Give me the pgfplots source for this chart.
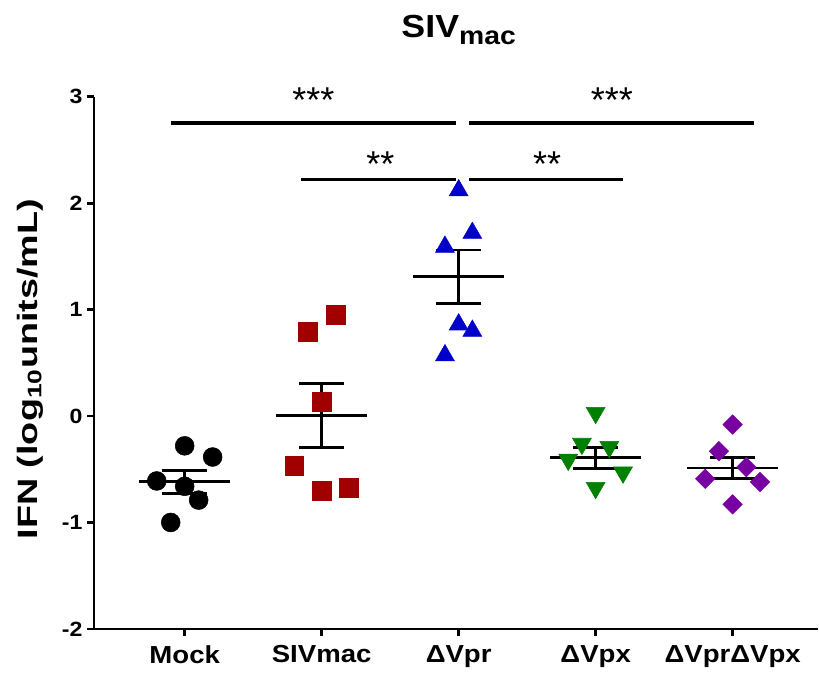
\documentclass[border=0pt]{standalone}
\usepackage{fontspec}
\setmainfont{Liberation Sans}[FakeStretch=1.12]
\newfontfamily\ylabfont{Liberation Sans}[FakeStretch=1.35]
\newfontfamily\starfont{Liberation Sans}
\usepackage{pgfplots}
\pgfplotsset{compat=1.18}
\definecolor{cred}{RGB}{160,0,0}
\definecolor{cblue}{RGB}{0,0,200}
\definecolor{cgreen}{RGB}{0,128,0}
\definecolor{cpurple}{RGB}{120,0,160}
\begin{document}
\begin{tikzpicture}
\begin{axis}[
  scale only axis, width=543.75pt, height=399.75pt,
  xmin=-0.663, xmax=4.62, ymin=-2, ymax=3,
  axis x line*=bottom, axis y line*=left,
  axis line style={line width=2pt},
  xtick={0,1,2,3,4},
  xticklabels={Mock,SIVmac,ΔVpr,ΔVpx,ΔVprΔVpx},
  ytick={-2,-1,0,1,2,3},
  tick align=outside, major tick length=5pt,
  tick style={line width=2pt, black},
  /pgf/number format/assume math mode=true,
  yticklabel style={font=\bfseries\fontsize{15.5}{15.5}\selectfont},
  xticklabel style={font=\bfseries\fontsize{18.5}{18.5}\selectfont, yshift=-4pt},
  ylabel={IFN (log\textsubscript{10}units/mL)},
  every axis y label/.style={at={(rel axis cs:-0.088,0.488)}, rotate=90, anchor=center, font=\ylabfont\bfseries\fontsize{21}{21}\selectfont},
  clip=false,
]
% invisible bounding box
\path (rel axis cs:-0.1297,-0.0844) rectangle (rel axis cs:1.002,1.182);

% mean and SEM
\addplot[only marks, mark=-, mark size=34pt, mark options={line width=2pt}, black,
  error bars/.cd, y dir=both, y explicit, error mark=|,
  error bar style={line width=2pt, black},
  error mark options={mark size=17pt, line width=2pt, black}]
  coordinates {
  (0,-0.613) += (0,0.100) -= (0,0.112)
  (1,0.003)  += (0,0.304) -= (0,0.297)
  (2,1.31)   += (0,0.250) -= (0,0.250)
  (3,-0.388) += (0,0.094) -= (0,0.102)
  (4,-0.488) += (0,0.100) -= (0,0.102)
  };

% data points
\addplot[only marks, mark=*, mark size=7.1pt, draw=black, fill=black]
  coordinates {(0,-0.28) (0.204,-0.385) (-0.204,-0.61) (0,-0.66) (0.102,-0.79) (-0.102,-1.00)};
\addplot[only marks, mark=square*, mark size=7.1pt, draw=cred, fill=cred]
  coordinates {(1.102,0.95) (0.9,0.79) (1,0.13) (0.8,-0.47) (1,-0.70) (1.2,-0.67)};
\addplot[only marks, mark=triangle*, mark size=8.2pt, draw=cblue, fill=cblue]
  coordinates {(2,2.12) (2.1,1.72) (1.9,1.59) (2,0.86) (2.1,0.80) (1.9,0.57)};
\addplot[only marks, mark=triangle*, mark size=8.2pt, mark options={rotate=180}, draw=cgreen, fill=cgreen]
  coordinates {(3,0.03) (2.9,-0.26) (3.1,-0.29) (2.8,-0.41) (3.2,-0.53) (3,-0.675)};
\addplot[only marks, mark=diamond*, mark size=7.3pt, mark options={xscale=1.33}, draw=cpurple, fill=cpurple]
  coordinates {(4,-0.08) (3.9,-0.33) (4.1,-0.48) (3.8,-0.59) (4.2,-0.62) (4,-0.83)};

% significance bars
\addplot[black, line width=3pt] coordinates {(-0.102,2.75) (1.982,2.75)};
\addplot[black, line width=3pt] coordinates {(2.077,2.75) (4.153,2.75)};
\addplot[black, line width=2pt] coordinates {(0.852,2.22) (1.982,2.22)};
\addplot[black, line width=2pt] coordinates {(2.077,2.22) (3.199,2.22)};
\node[anchor=base, font=\starfont\fontsize{27}{27}\selectfont] at (axis cs:0.94,2.85) {***};
\node[anchor=base, font=\starfont\fontsize{27}{27}\selectfont] at (axis cs:3.118,2.85) {***};
\node[anchor=base, font=\starfont\fontsize{27}{27}\selectfont] at (axis cs:1.428,2.25) {**};
\node[anchor=base, font=\starfont\fontsize{27}{27}\selectfont] at (axis cs:2.645,2.25) {**};

% title
\node[anchor=base, font=\bfseries\fontsize{24}{24}\selectfont, inner sep=0pt] at (axis cs:2,3.555) {SIV\raisebox{-5pt}{\fontsize{19}{19}\selectfont mac}};
\end{axis}
\end{tikzpicture}
\end{document}
